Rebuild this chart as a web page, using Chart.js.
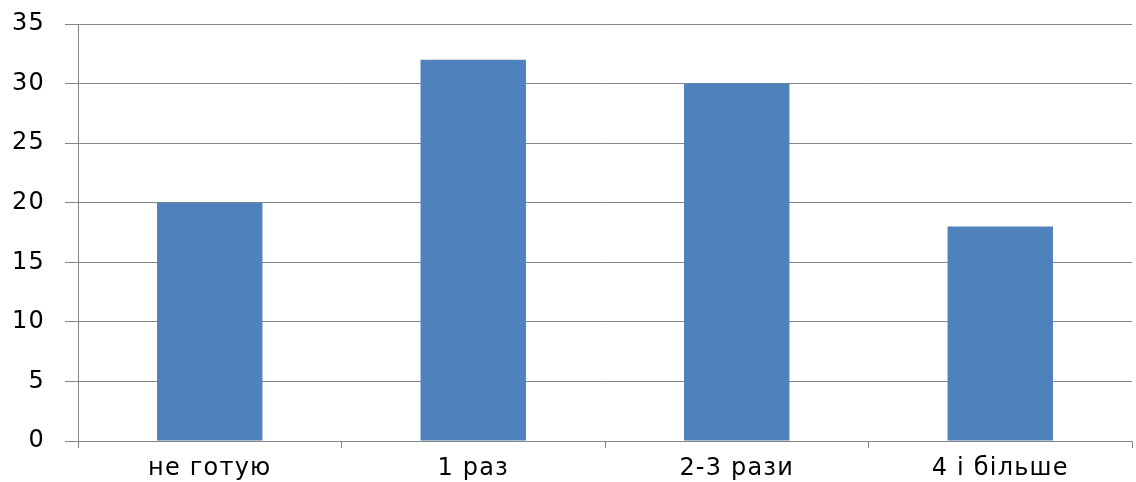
<!DOCTYPE html>
<html>
<head>
<meta charset="utf-8">
<script src="https://cdn.jsdelivr.net/npm/chart.js@4.4.1/dist/chart.umd.min.js"></script>
<style>
  html, body { margin: 0; padding: 0; background: #fff; }
  #wrap { width: 1136px; height: 482px; position: relative; }
</style>
</head>
<body>
<div id="wrap"><canvas id="c"></canvas></div>
<script>
// Categories and counts for each answer
const categories = ['не готую', '1 раз', '2-3 рази', '4 і більше'];
const counts = [20, 32, 30, 18];
const yTicks = { min: 0, max: 35, step: 5 };

const gridGray = '#868686';
const labelFont = { family: 'DejaVu Sans', size: 24, lineHeight: 1.0 };

// Slightly wider letter spacing for all axis text
const spacingPlugin = {
  id: 'spacing',
  beforeLayout(chart) { chart.ctx.letterSpacing = '1.2px'; },
  beforeDraw(chart) { chart.ctx.letterSpacing = '1.2px'; }
};

new Chart(document.getElementById('c'), {
  type: 'bar',
  data: {
    labels: categories,
    datasets: [{
      data: counts,
      backgroundColor: '#4f81bd',
      borderWidth: 0,
      barPercentage: 0.4,
      categoryPercentage: 1.0
    }]
  },
  plugins: [spacingPlugin],
  options: {
    responsive: true,
    maintainAspectRatio: false,
    animation: false,
    layout: { padding: { top: 24, right: 4, bottom: 0, left: 0 } },
    plugins: { legend: { display: false }, tooltip: { enabled: false } },
    scales: {
      x: {
        grid: {
          offset: true,
          drawOnChartArea: false,
          drawTicks: true,
          tickLength: 7,
          color: gridGray
        },
        border: { display: true, color: gridGray, width: 1 },
        ticks: {
          color: '#000',
          font: labelFont,
          padding: 9
        },
        afterFit(scale) {
          scale.height = 41;
        }
      },
      y: {
        min: yTicks.min,
        max: yTicks.max,
        ticks: {
          stepSize: yTicks.step,
          color: '#000',
          font: labelFont,
          padding: 20
        },
        grid: {
          color: gridGray,
          tickLength: 13,
          drawTicks: true
        },
        border: { display: true, color: gridGray, width: 1 },
        afterFit(scale) {
          scale.width = 78;
          scale.paddingTop = 0;
          scale.paddingBottom = 0;
        }
      }
    }
  }
});
</script>
</body>
</html>
